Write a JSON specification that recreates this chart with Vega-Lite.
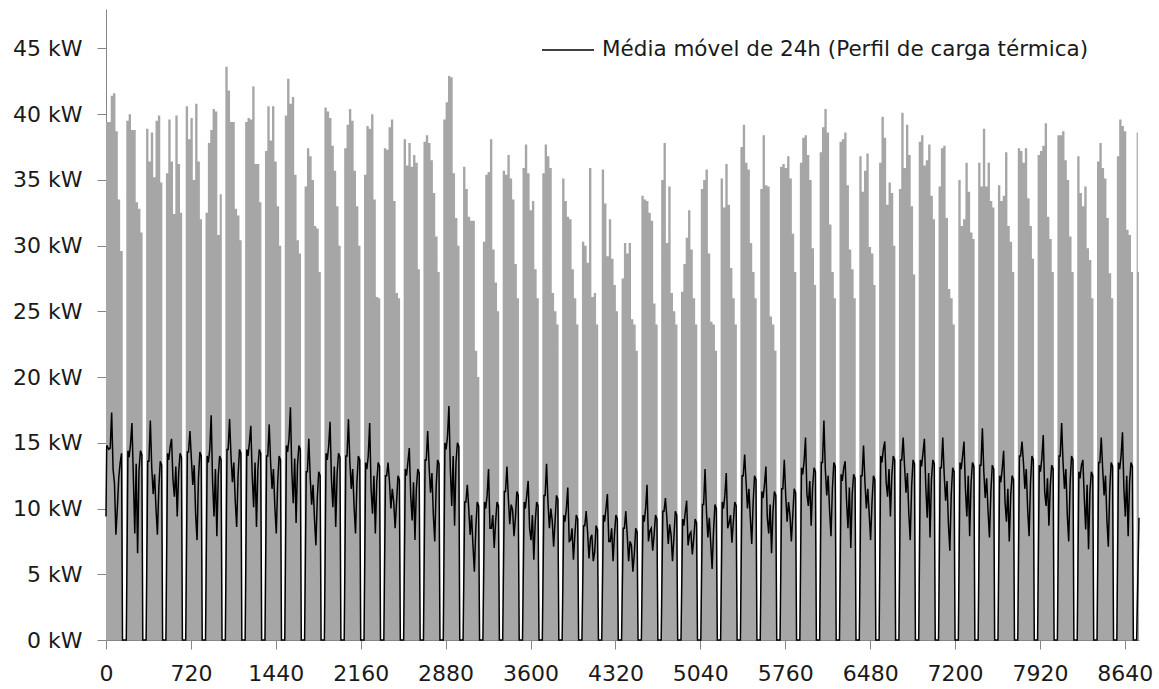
{
"$schema": "https://vega.github.io/schema/vega-lite/v6.json",
"width": 1033, "height": 631,
"autosize": {"type": "none"},
"padding": {"left": 106, "top": 9, "right": 20, "bottom": 49},
"background": "white",
"config": {
 "view": {"stroke": null},
 "font": "DejaVu Sans",
 "axis": {"grid": false, "domainColor": "#868686", "tickColor": "#868686", "labelColor": "#1a1a1a", "labelFont": "DejaVu Sans", "labelFontSize": 22, "title": null, "labelFlush": false, "labelOverlap": false, "tickSize": 9, "domainWidth": 1, "tickWidth": 1}
},
"datasets": {
"g": [
{"h":0,"v":39.4},{"h":20,"v":39.4},{"h":40,"v":41.4},{"h":60,"v":41.6},{"h":80,"v":38.7},{"h":100,"v":33.5},{"h":120,"v":29.6},{"h":142,"v":0},
{"h":172,"v":39.5},{"h":192,"v":40.0},{"h":212,"v":38.8},{"h":232,"v":38.8},{"h":252,"v":33.3},{"h":272,"v":32.8},{"h":292,"v":31.0},{"h":310,"v":0},
{"h":340,"v":38.9},{"h":360,"v":36.4},{"h":380,"v":38.6},{"h":400,"v":35.2},{"h":420,"v":39.5},{"h":440,"v":39.9},{"h":460,"v":34.8},{"h":478,"v":0},
{"h":508,"v":35.5},{"h":528,"v":39.6},{"h":548,"v":36.4},{"h":568,"v":32.4},{"h":588,"v":39.9},{"h":608,"v":36.2},{"h":628,"v":32.5},{"h":646,"v":0},
{"h":676,"v":40.6},{"h":696,"v":38.1},{"h":716,"v":39.7},{"h":736,"v":35.0},{"h":756,"v":40.8},{"h":776,"v":36.4},{"h":796,"v":32.0},{"h":814,"v":0},
{"h":844,"v":32.5},{"h":864,"v":37.8},{"h":884,"v":38.8},{"h":904,"v":40.4},{"h":924,"v":40.2},{"h":944,"v":30.8},{"h":964,"v":33.9},{"h":982,"v":0},
{"h":1012,"v":43.6},{"h":1032,"v":41.8},{"h":1052,"v":39.4},{"h":1072,"v":39.4},{"h":1092,"v":32.8},{"h":1112,"v":32.3},{"h":1132,"v":30.4},{"h":1150,"v":0},
{"h":1180,"v":39.4},{"h":1200,"v":39.7},{"h":1220,"v":39.6},{"h":1240,"v":42.1},{"h":1260,"v":36.2},{"h":1280,"v":36.2},{"h":1300,"v":33.3},{"h":1318,"v":0},
{"h":1348,"v":37.2},{"h":1368,"v":40.6},{"h":1388,"v":38.0},{"h":1408,"v":40.6},{"h":1428,"v":36.4},{"h":1448,"v":33.0},{"h":1468,"v":30.0},{"h":1486,"v":0},
{"h":1516,"v":39.9},{"h":1536,"v":42.7},{"h":1556,"v":40.8},{"h":1576,"v":41.3},{"h":1596,"v":35.4},{"h":1616,"v":30.4},{"h":1636,"v":29.4},{"h":1654,"v":0},
{"h":1684,"v":34.5},{"h":1704,"v":37.4},{"h":1724,"v":36.8},{"h":1744,"v":35.0},{"h":1764,"v":31.5},{"h":1784,"v":31.3},{"h":1804,"v":28.0},{"h":1822,"v":0},
{"h":1852,"v":40.5},{"h":1872,"v":40.2},{"h":1892,"v":39.7},{"h":1912,"v":37.6},{"h":1932,"v":35.7},{"h":1952,"v":33.0},{"h":1972,"v":30.0},{"h":1990,"v":0},
{"h":2020,"v":37.4},{"h":2040,"v":39.2},{"h":2060,"v":40.4},{"h":2080,"v":39.5},{"h":2100,"v":35.7},{"h":2120,"v":33.0},{"h":2140,"v":30.0},{"h":2158,"v":0},
{"h":2188,"v":35.4},{"h":2208,"v":39.1},{"h":2228,"v":38.9},{"h":2248,"v":40.0},{"h":2268,"v":33.5},{"h":2288,"v":26.1},{"h":2308,"v":26.0},{"h":2326,"v":0},
{"h":2356,"v":37.4},{"h":2376,"v":37.3},{"h":2396,"v":39.0},{"h":2416,"v":39.6},{"h":2436,"v":33.4},{"h":2456,"v":26.4},{"h":2476,"v":26.0},{"h":2494,"v":0},
{"h":2524,"v":38.1},{"h":2544,"v":36.1},{"h":2564,"v":37.8},{"h":2584,"v":36.0},{"h":2604,"v":36.9},{"h":2624,"v":36.3},{"h":2644,"v":28.2},{"h":2662,"v":0},
{"h":2692,"v":37.9},{"h":2712,"v":38.4},{"h":2732,"v":37.8},{"h":2752,"v":36.5},{"h":2772,"v":34.0},{"h":2792,"v":30.7},{"h":2812,"v":28.0},{"h":2830,"v":0},
{"h":2860,"v":39.6},{"h":2880,"v":40.9},{"h":2900,"v":42.9},{"h":2920,"v":42.8},{"h":2940,"v":35.5},{"h":2960,"v":32.1},{"h":2980,"v":30.0},{"h":2998,"v":0},
{"h":3028,"v":36.0},{"h":3048,"v":34.3},{"h":3068,"v":32.2},{"h":3088,"v":31.9},{"h":3108,"v":31.9},{"h":3128,"v":22.0},{"h":3148,"v":20.0},{"h":3166,"v":0},
{"h":3196,"v":30.3},{"h":3216,"v":35.4},{"h":3236,"v":35.6},{"h":3256,"v":38.1},{"h":3276,"v":29.7},{"h":3296,"v":27.2},{"h":3316,"v":25.0},{"h":3334,"v":0},
{"h":3364,"v":35.7},{"h":3384,"v":35.4},{"h":3404,"v":36.9},{"h":3424,"v":35.1},{"h":3444,"v":33.5},{"h":3464,"v":28.6},{"h":3484,"v":26.0},{"h":3502,"v":0},
{"h":3532,"v":35.9},{"h":3552,"v":37.7},{"h":3572,"v":35.5},{"h":3592,"v":32.7},{"h":3612,"v":33.4},{"h":3632,"v":28.2},{"h":3652,"v":26.0},{"h":3670,"v":0},
{"h":3700,"v":35.5},{"h":3720,"v":37.7},{"h":3740,"v":36.8},{"h":3760,"v":35.9},{"h":3780,"v":26.4},{"h":3800,"v":25.0},{"h":3820,"v":24.0},{"h":3838,"v":0},
{"h":3868,"v":35.1},{"h":3888,"v":33.4},{"h":3908,"v":32.2},{"h":3928,"v":32.0},{"h":3948,"v":28.2},{"h":3968,"v":26.0},{"h":3988,"v":24.0},{"h":4006,"v":0},
{"h":4036,"v":30.3},{"h":4056,"v":30.0},{"h":4076,"v":28.7},{"h":4096,"v":35.9},{"h":4116,"v":26.1},{"h":4136,"v":26.4},{"h":4156,"v":24.0},{"h":4174,"v":0},
{"h":4204,"v":35.8},{"h":4224,"v":33.2},{"h":4244,"v":29.2},{"h":4264,"v":32.0},{"h":4284,"v":29.0},{"h":4304,"v":27.0},{"h":4324,"v":25.0},{"h":4342,"v":0},
{"h":4372,"v":27.5},{"h":4392,"v":30.2},{"h":4412,"v":29.4},{"h":4432,"v":30.2},{"h":4452,"v":24.4},{"h":4472,"v":24.0},{"h":4492,"v":22.0},{"h":4510,"v":0},
{"h":4540,"v":33.8},{"h":4560,"v":33.5},{"h":4580,"v":33.4},{"h":4600,"v":32.5},{"h":4620,"v":31.9},{"h":4640,"v":25.6},{"h":4660,"v":24.0},{"h":4678,"v":0},
{"h":4708,"v":35.0},{"h":4728,"v":37.8},{"h":4748,"v":30.2},{"h":4768,"v":34.5},{"h":4788,"v":26.4},{"h":4808,"v":25.0},{"h":4828,"v":24.0},{"h":4846,"v":0},
{"h":4876,"v":26.5},{"h":4896,"v":28.6},{"h":4916,"v":30.6},{"h":4936,"v":32.7},{"h":4956,"v":29.7},{"h":4976,"v":26.0},{"h":4996,"v":24.0},{"h":5014,"v":0},
{"h":5044,"v":34.3},{"h":5064,"v":35.0},{"h":5084,"v":35.8},{"h":5104,"v":29.4},{"h":5124,"v":24.2},{"h":5144,"v":24.0},{"h":5164,"v":22.0},{"h":5182,"v":0},
{"h":5212,"v":35.1},{"h":5232,"v":32.9},{"h":5252,"v":36.2},{"h":5272,"v":33.1},{"h":5292,"v":28.3},{"h":5312,"v":26.0},{"h":5332,"v":24.0},{"h":5350,"v":0},
{"h":5380,"v":37.5},{"h":5400,"v":39.2},{"h":5420,"v":36.3},{"h":5440,"v":35.8},{"h":5460,"v":30.2},{"h":5480,"v":28.0},{"h":5500,"v":26.0},{"h":5518,"v":0},
{"h":5548,"v":34.3},{"h":5568,"v":38.4},{"h":5588,"v":34.6},{"h":5608,"v":34.5},{"h":5628,"v":24.6},{"h":5648,"v":24.0},{"h":5668,"v":22.0},{"h":5686,"v":0},
{"h":5716,"v":36.0},{"h":5736,"v":36.2},{"h":5756,"v":35.9},{"h":5776,"v":36.8},{"h":5796,"v":35.1},{"h":5816,"v":30.9},{"h":5836,"v":28.0},{"h":5854,"v":0},
{"h":5884,"v":36.3},{"h":5904,"v":38.2},{"h":5924,"v":38.4},{"h":5944,"v":36.9},{"h":5964,"v":35.0},{"h":5984,"v":29.8},{"h":6004,"v":27.0},{"h":6022,"v":0},
{"h":6052,"v":37.1},{"h":6072,"v":39.0},{"h":6092,"v":40.4},{"h":6112,"v":38.6},{"h":6132,"v":31.6},{"h":6152,"v":28.0},{"h":6172,"v":26.0},{"h":6190,"v":0},
{"h":6220,"v":37.9},{"h":6240,"v":38.1},{"h":6260,"v":38.6},{"h":6280,"v":34.6},{"h":6300,"v":29.7},{"h":6320,"v":28.2},{"h":6340,"v":26.0},{"h":6358,"v":0},
{"h":6388,"v":36.8},{"h":6408,"v":34.1},{"h":6428,"v":35.7},{"h":6448,"v":37.0},{"h":6468,"v":29.9},{"h":6488,"v":29.4},{"h":6508,"v":27.0},{"h":6526,"v":0},
{"h":6556,"v":36.3},{"h":6576,"v":39.8},{"h":6596,"v":38.2},{"h":6616,"v":33.1},{"h":6636,"v":34.8},{"h":6656,"v":34.0},{"h":6676,"v":30.0},{"h":6694,"v":0},
{"h":6724,"v":34.3},{"h":6744,"v":40.1},{"h":6764,"v":35.9},{"h":6784,"v":39.2},{"h":6804,"v":36.9},{"h":6824,"v":33.0},{"h":6844,"v":27.8},{"h":6862,"v":0},
{"h":6892,"v":37.9},{"h":6912,"v":38.4},{"h":6932,"v":36.1},{"h":6952,"v":36.5},{"h":6972,"v":37.7},{"h":6992,"v":33.8},{"h":7012,"v":32.0},{"h":7030,"v":0},
{"h":7060,"v":34.5},{"h":7080,"v":37.4},{"h":7100,"v":37.6},{"h":7120,"v":32.1},{"h":7140,"v":26.7},{"h":7160,"v":26.0},{"h":7180,"v":24.0},{"h":7198,"v":0},
{"h":7228,"v":35.0},{"h":7248,"v":31.5},{"h":7268,"v":32.0},{"h":7288,"v":36.3},{"h":7308,"v":34.1},{"h":7328,"v":31.0},{"h":7348,"v":30.5},{"h":7366,"v":0},
{"h":7396,"v":36.3},{"h":7416,"v":34.5},{"h":7436,"v":38.9},{"h":7456,"v":34.5},{"h":7476,"v":36.3},{"h":7496,"v":33.4},{"h":7516,"v":32.9},{"h":7534,"v":0},
{"h":7564,"v":34.6},{"h":7584,"v":33.4},{"h":7604,"v":33.8},{"h":7624,"v":37.1},{"h":7644,"v":31.5},{"h":7664,"v":30.3},{"h":7684,"v":28.0},{"h":7702,"v":0},
{"h":7732,"v":37.4},{"h":7752,"v":37.2},{"h":7772,"v":36.3},{"h":7792,"v":37.4},{"h":7812,"v":33.6},{"h":7832,"v":31.5},{"h":7852,"v":29.0},{"h":7870,"v":0},
{"h":7900,"v":36.9},{"h":7920,"v":37.2},{"h":7940,"v":37.6},{"h":7960,"v":39.3},{"h":7980,"v":32.2},{"h":8000,"v":30.5},{"h":8020,"v":28.0},{"h":8038,"v":0},
{"h":8068,"v":38.4},{"h":8088,"v":38.4},{"h":8108,"v":38.7},{"h":8128,"v":36.5},{"h":8148,"v":35.0},{"h":8168,"v":30.7},{"h":8188,"v":28.0},{"h":8206,"v":0},
{"h":8236,"v":36.8},{"h":8256,"v":34.0},{"h":8276,"v":33.0},{"h":8296,"v":34.5},{"h":8316,"v":29.8},{"h":8336,"v":28.9},{"h":8356,"v":26.0},{"h":8374,"v":0},
{"h":8404,"v":36.4},{"h":8424,"v":37.8},{"h":8444,"v":35.9},{"h":8464,"v":35.1},{"h":8484,"v":32.1},{"h":8504,"v":27.9},{"h":8524,"v":26.0},{"h":8542,"v":0},
{"h":8572,"v":36.8},{"h":8592,"v":39.6},{"h":8612,"v":39.1},{"h":8632,"v":38.7},{"h":8652,"v":31.2},{"h":8672,"v":30.8},{"h":8692,"v":28.0},{"h":8710,"v":0},
{"h":8740,"v":38.6},{"h":8750,"v":28.0},{"h":8760,"v":28.0}
],
"m": [
{"h":0,"v":9.4},{"h":6,"v":14.8},{"h":24,"v":14.5},{"h":36,"v":14.6},{"h":48,"v":17.3},{"h":60,"v":13.0},{"h":72,"v":11.9},{"h":84,"v":8.0},{"h":96,"v":10.0},{"h":108,"v":12.3},{"h":120,"v":13.5},{"h":132,"v":14.2},{"h":140,"v":0},
{"h":172,"v":0},{"h":186,"v":14.4},{"h":196,"v":13.9},{"h":208,"v":14.9},{"h":220,"v":16.5},{"h":232,"v":12.4},{"h":244,"v":8.1},{"h":256,"v":13.4},{"h":268,"v":6.6},{"h":280,"v":12.9},{"h":292,"v":14.4},{"h":304,"v":14.1},{"h":312,"v":0},
{"h":340,"v":0},{"h":354,"v":13.6},{"h":364,"v":13.6},{"h":376,"v":16.7},{"h":388,"v":13.1},{"h":400,"v":11.1},{"h":412,"v":12.6},{"h":424,"v":10.0},{"h":436,"v":8.0},{"h":448,"v":11.6},{"h":460,"v":13.6},{"h":472,"v":13.3},{"h":480,"v":0},
{"h":508,"v":0},{"h":522,"v":14.2},{"h":532,"v":13.7},{"h":544,"v":14.7},{"h":556,"v":15.3},{"h":568,"v":12.2},{"h":580,"v":10.9},{"h":592,"v":13.2},{"h":604,"v":9.4},{"h":616,"v":12.7},{"h":628,"v":14.2},{"h":640,"v":13.9},{"h":648,"v":0},
{"h":676,"v":0},{"h":690,"v":14.3},{"h":700,"v":14.3},{"h":712,"v":15.9},{"h":724,"v":13.8},{"h":736,"v":11.8},{"h":748,"v":13.3},{"h":760,"v":9.6},{"h":772,"v":7.6},{"h":784,"v":12.3},{"h":796,"v":14.3},{"h":808,"v":14.0},{"h":816,"v":0},
{"h":844,"v":0},{"h":858,"v":14.0},{"h":868,"v":13.5},{"h":880,"v":14.5},{"h":892,"v":17.1},{"h":904,"v":12.0},{"h":916,"v":9.4},{"h":928,"v":13.0},{"h":940,"v":7.9},{"h":952,"v":12.5},{"h":964,"v":14.0},{"h":976,"v":13.7},{"h":984,"v":0},
{"h":1012,"v":0},{"h":1026,"v":14.5},{"h":1036,"v":14.5},{"h":1048,"v":16.8},{"h":1060,"v":14.0},{"h":1072,"v":12.0},{"h":1084,"v":13.5},{"h":1096,"v":10.6},{"h":1108,"v":8.6},{"h":1120,"v":12.5},{"h":1132,"v":14.5},{"h":1144,"v":14.2},{"h":1152,"v":0},
{"h":1180,"v":0},{"h":1194,"v":14.5},{"h":1204,"v":14.0},{"h":1216,"v":15.0},{"h":1228,"v":16.3},{"h":1240,"v":12.5},{"h":1252,"v":10.1},{"h":1264,"v":13.5},{"h":1276,"v":8.6},{"h":1288,"v":13.0},{"h":1300,"v":14.5},{"h":1312,"v":14.2},{"h":1320,"v":0},
{"h":1348,"v":0},{"h":1362,"v":14.0},{"h":1372,"v":14.0},{"h":1384,"v":16.4},{"h":1396,"v":13.5},{"h":1408,"v":11.5},{"h":1420,"v":13.0},{"h":1432,"v":10.1},{"h":1444,"v":8.1},{"h":1456,"v":12.0},{"h":1468,"v":14.0},{"h":1480,"v":13.7},{"h":1488,"v":0},
{"h":1516,"v":0},{"h":1530,"v":14.8},{"h":1540,"v":14.3},{"h":1552,"v":15.3},{"h":1564,"v":17.7},{"h":1576,"v":12.8},{"h":1588,"v":10.4},{"h":1600,"v":13.8},{"h":1612,"v":8.9},{"h":1624,"v":13.3},{"h":1636,"v":14.8},{"h":1648,"v":14.5},{"h":1656,"v":0},
{"h":1684,"v":0},{"h":1698,"v":12.8},{"h":1708,"v":12.8},{"h":1720,"v":15.3},{"h":1732,"v":12.3},{"h":1744,"v":10.3},{"h":1756,"v":11.8},{"h":1768,"v":9.2},{"h":1780,"v":7.2},{"h":1792,"v":10.8},{"h":1804,"v":12.8},{"h":1816,"v":12.5},{"h":1824,"v":0},
{"h":1852,"v":0},{"h":1866,"v":14.2},{"h":1876,"v":13.7},{"h":1888,"v":14.7},{"h":1900,"v":16.6},{"h":1912,"v":12.2},{"h":1924,"v":10.1},{"h":1936,"v":13.2},{"h":1948,"v":8.6},{"h":1960,"v":12.7},{"h":1972,"v":14.2},{"h":1984,"v":13.9},{"h":1992,"v":0},
{"h":2020,"v":0},{"h":2034,"v":14.0},{"h":2044,"v":14.0},{"h":2056,"v":16.8},{"h":2068,"v":13.5},{"h":2080,"v":11.5},{"h":2092,"v":13.0},{"h":2104,"v":10.1},{"h":2116,"v":8.1},{"h":2128,"v":12.0},{"h":2140,"v":14.0},{"h":2152,"v":13.7},{"h":2160,"v":0},
{"h":2188,"v":0},{"h":2202,"v":13.5},{"h":2212,"v":13.0},{"h":2224,"v":14.0},{"h":2236,"v":16.5},{"h":2248,"v":11.5},{"h":2260,"v":9.6},{"h":2272,"v":12.5},{"h":2284,"v":8.1},{"h":2296,"v":12.0},{"h":2308,"v":13.5},{"h":2320,"v":13.2},{"h":2328,"v":0},
{"h":2356,"v":0},{"h":2370,"v":12.5},{"h":2380,"v":12.5},{"h":2392,"v":13.5},{"h":2404,"v":12.0},{"h":2416,"v":10.0},{"h":2428,"v":11.5},{"h":2440,"v":10.5},{"h":2452,"v":8.5},{"h":2464,"v":10.5},{"h":2476,"v":12.5},{"h":2488,"v":12.2},{"h":2496,"v":0},
{"h":2524,"v":0},{"h":2538,"v":13.0},{"h":2548,"v":12.5},{"h":2560,"v":13.5},{"h":2572,"v":14.6},{"h":2584,"v":11.0},{"h":2596,"v":9.1},{"h":2608,"v":12.0},{"h":2620,"v":7.6},{"h":2632,"v":11.5},{"h":2644,"v":13.0},{"h":2656,"v":12.7},{"h":2664,"v":0},
{"h":2692,"v":0},{"h":2706,"v":13.7},{"h":2716,"v":13.7},{"h":2728,"v":15.9},{"h":2740,"v":13.2},{"h":2752,"v":11.2},{"h":2764,"v":12.7},{"h":2776,"v":9.5},{"h":2788,"v":7.5},{"h":2800,"v":11.7},{"h":2812,"v":13.7},{"h":2824,"v":13.4},{"h":2832,"v":0},
{"h":2860,"v":0},{"h":2874,"v":15.0},{"h":2884,"v":14.5},{"h":2896,"v":15.5},{"h":2908,"v":17.8},{"h":2920,"v":13.0},{"h":2932,"v":10.2},{"h":2944,"v":14.0},{"h":2956,"v":8.7},{"h":2968,"v":13.5},{"h":2980,"v":15.0},{"h":2992,"v":14.7},{"h":3000,"v":0},
{"h":3028,"v":0},{"h":3042,"v":10.5},{"h":3052,"v":10.5},{"h":3064,"v":11.8},{"h":3076,"v":10.0},{"h":3088,"v":8.0},{"h":3100,"v":9.5},{"h":3112,"v":7.2},{"h":3124,"v":5.2},{"h":3136,"v":8.5},{"h":3148,"v":10.5},{"h":3160,"v":10.2},{"h":3168,"v":0},
{"h":3196,"v":0},{"h":3210,"v":10.5},{"h":3220,"v":10.0},{"h":3232,"v":11.0},{"h":3244,"v":13.0},{"h":3256,"v":8.5},{"h":3268,"v":8.5},{"h":3280,"v":9.5},{"h":3292,"v":7.0},{"h":3304,"v":9.0},{"h":3316,"v":10.5},{"h":3328,"v":10.2},{"h":3336,"v":0},
{"h":3364,"v":0},{"h":3378,"v":11.3},{"h":3388,"v":11.3},{"h":3400,"v":13.2},{"h":3412,"v":10.8},{"h":3424,"v":8.8},{"h":3436,"v":10.3},{"h":3448,"v":9.9},{"h":3460,"v":7.9},{"h":3472,"v":9.3},{"h":3484,"v":11.3},{"h":3496,"v":11.0},{"h":3504,"v":0},
{"h":3532,"v":0},{"h":3546,"v":10.5},{"h":3556,"v":10.0},{"h":3568,"v":11.0},{"h":3580,"v":12.1},{"h":3592,"v":8.5},{"h":3604,"v":7.6},{"h":3616,"v":9.5},{"h":3628,"v":6.1},{"h":3640,"v":9.0},{"h":3652,"v":10.5},{"h":3664,"v":10.2},{"h":3672,"v":0},
{"h":3700,"v":0},{"h":3714,"v":11.0},{"h":3724,"v":11.0},{"h":3736,"v":13.4},{"h":3748,"v":10.5},{"h":3760,"v":8.5},{"h":3772,"v":10.0},{"h":3784,"v":9.1},{"h":3796,"v":7.1},{"h":3808,"v":9.0},{"h":3820,"v":11.0},{"h":3832,"v":10.7},{"h":3840,"v":0},
{"h":3868,"v":0},{"h":3882,"v":9.5},{"h":3892,"v":9.0},{"h":3904,"v":10.0},{"h":3916,"v":11.6},{"h":3928,"v":7.5},{"h":3940,"v":7.6},{"h":3952,"v":8.5},{"h":3964,"v":6.1},{"h":3976,"v":8.0},{"h":3988,"v":9.5},{"h":4000,"v":9.2},{"h":4008,"v":0},
{"h":4036,"v":0},{"h":4050,"v":8.7},{"h":4060,"v":8.7},{"h":4072,"v":9.8},{"h":4084,"v":8.2},{"h":4096,"v":6.2},{"h":4108,"v":7.7},{"h":4120,"v":8.0},{"h":4132,"v":6.0},{"h":4144,"v":6.7},{"h":4156,"v":8.7},{"h":4168,"v":8.4},{"h":4176,"v":0},
{"h":4204,"v":0},{"h":4218,"v":9.5},{"h":4228,"v":9.0},{"h":4240,"v":10.0},{"h":4252,"v":11.1},{"h":4264,"v":7.5},{"h":4276,"v":7.5},{"h":4288,"v":8.5},{"h":4300,"v":6.0},{"h":4312,"v":8.0},{"h":4324,"v":9.5},{"h":4336,"v":9.2},{"h":4344,"v":0},
{"h":4372,"v":0},{"h":4386,"v":8.5},{"h":4396,"v":8.5},{"h":4408,"v":9.8},{"h":4420,"v":8.0},{"h":4432,"v":6.0},{"h":4444,"v":7.5},{"h":4456,"v":7.2},{"h":4468,"v":5.2},{"h":4480,"v":6.5},{"h":4492,"v":8.5},{"h":4504,"v":8.2},{"h":4512,"v":0},
{"h":4540,"v":0},{"h":4554,"v":9.5},{"h":4564,"v":9.0},{"h":4576,"v":10.0},{"h":4588,"v":11.8},{"h":4600,"v":7.5},{"h":4612,"v":8.3},{"h":4624,"v":8.5},{"h":4636,"v":6.8},{"h":4648,"v":8.0},{"h":4660,"v":9.5},{"h":4672,"v":9.2},{"h":4680,"v":0},
{"h":4708,"v":0},{"h":4722,"v":9.8},{"h":4732,"v":9.8},{"h":4744,"v":10.8},{"h":4756,"v":9.3},{"h":4768,"v":7.3},{"h":4780,"v":8.8},{"h":4792,"v":8.0},{"h":4804,"v":6.0},{"h":4816,"v":7.8},{"h":4828,"v":9.8},{"h":4840,"v":9.5},{"h":4848,"v":0},
{"h":4876,"v":0},{"h":4890,"v":9.2},{"h":4900,"v":8.7},{"h":4912,"v":9.7},{"h":4924,"v":10.6},{"h":4936,"v":7.2},{"h":4948,"v":8.0},{"h":4960,"v":8.2},{"h":4972,"v":6.5},{"h":4984,"v":7.7},{"h":4996,"v":9.2},{"h":5008,"v":8.9},{"h":5016,"v":0},
{"h":5044,"v":0},{"h":5058,"v":10.3},{"h":5068,"v":10.3},{"h":5080,"v":13.0},{"h":5092,"v":9.8},{"h":5104,"v":7.8},{"h":5116,"v":9.3},{"h":5128,"v":7.4},{"h":5140,"v":5.4},{"h":5152,"v":8.3},{"h":5164,"v":10.3},{"h":5176,"v":10.0},{"h":5184,"v":0},
{"h":5212,"v":0},{"h":5226,"v":10.5},{"h":5236,"v":10.0},{"h":5248,"v":11.0},{"h":5260,"v":12.7},{"h":5272,"v":8.5},{"h":5284,"v":8.9},{"h":5296,"v":9.5},{"h":5308,"v":7.4},{"h":5320,"v":9.0},{"h":5332,"v":10.5},{"h":5344,"v":10.2},{"h":5352,"v":0},
{"h":5380,"v":0},{"h":5394,"v":12.5},{"h":5404,"v":12.5},{"h":5416,"v":14.1},{"h":5428,"v":12.0},{"h":5440,"v":10.0},{"h":5452,"v":11.5},{"h":5464,"v":9.3},{"h":5476,"v":7.3},{"h":5488,"v":10.5},{"h":5500,"v":12.5},{"h":5512,"v":12.2},{"h":5520,"v":0},
{"h":5548,"v":0},{"h":5562,"v":11.3},{"h":5572,"v":10.8},{"h":5584,"v":11.8},{"h":5596,"v":13.2},{"h":5608,"v":9.3},{"h":5620,"v":8.1},{"h":5632,"v":10.3},{"h":5644,"v":6.6},{"h":5656,"v":9.8},{"h":5668,"v":11.3},{"h":5680,"v":11.0},{"h":5688,"v":0},
{"h":5716,"v":0},{"h":5730,"v":11.5},{"h":5740,"v":11.5},{"h":5752,"v":13.7},{"h":5764,"v":11.0},{"h":5776,"v":9.0},{"h":5788,"v":10.5},{"h":5800,"v":9.5},{"h":5812,"v":7.5},{"h":5824,"v":9.5},{"h":5836,"v":11.5},{"h":5848,"v":11.2},{"h":5856,"v":0},
{"h":5884,"v":0},{"h":5898,"v":13.1},{"h":5908,"v":12.6},{"h":5920,"v":13.6},{"h":5932,"v":15.4},{"h":5944,"v":11.1},{"h":5956,"v":10.2},{"h":5968,"v":12.1},{"h":5980,"v":8.7},{"h":5992,"v":11.6},{"h":6004,"v":13.1},{"h":6016,"v":12.8},{"h":6024,"v":0},
{"h":6052,"v":0},{"h":6066,"v":13.5},{"h":6076,"v":13.5},{"h":6088,"v":16.7},{"h":6100,"v":13.0},{"h":6112,"v":11.0},{"h":6124,"v":12.5},{"h":6136,"v":9.9},{"h":6148,"v":7.9},{"h":6160,"v":11.5},{"h":6172,"v":13.5},{"h":6184,"v":13.2},{"h":6192,"v":0},
{"h":6220,"v":0},{"h":6234,"v":12.6},{"h":6244,"v":12.1},{"h":6256,"v":13.1},{"h":6268,"v":13.6},{"h":6280,"v":10.6},{"h":6292,"v":8.5},{"h":6304,"v":11.6},{"h":6316,"v":7.0},{"h":6328,"v":11.1},{"h":6340,"v":12.6},{"h":6352,"v":12.3},{"h":6360,"v":0},
{"h":6388,"v":0},{"h":6402,"v":12.5},{"h":6412,"v":12.5},{"h":6424,"v":14.8},{"h":6436,"v":12.0},{"h":6448,"v":10.0},{"h":6460,"v":11.5},{"h":6472,"v":9.6},{"h":6484,"v":7.6},{"h":6496,"v":10.5},{"h":6508,"v":12.5},{"h":6520,"v":12.2},{"h":6528,"v":0},
{"h":6556,"v":0},{"h":6570,"v":14.0},{"h":6580,"v":13.5},{"h":6592,"v":14.5},{"h":6604,"v":15.1},{"h":6616,"v":12.0},{"h":6628,"v":10.9},{"h":6640,"v":13.0},{"h":6652,"v":9.4},{"h":6664,"v":12.5},{"h":6676,"v":14.0},{"h":6688,"v":13.7},{"h":6696,"v":0},
{"h":6724,"v":0},{"h":6738,"v":13.7},{"h":6748,"v":13.7},{"h":6760,"v":15.4},{"h":6772,"v":13.2},{"h":6784,"v":11.2},{"h":6796,"v":12.7},{"h":6808,"v":9.6},{"h":6820,"v":7.6},{"h":6832,"v":11.7},{"h":6844,"v":13.7},{"h":6856,"v":13.4},{"h":6864,"v":0},
{"h":6892,"v":0},{"h":6906,"v":13.7},{"h":6916,"v":13.2},{"h":6928,"v":14.2},{"h":6940,"v":15.3},{"h":6952,"v":11.7},{"h":6964,"v":9.3},{"h":6976,"v":12.7},{"h":6988,"v":7.8},{"h":7000,"v":12.2},{"h":7012,"v":13.7},{"h":7024,"v":13.4},{"h":7032,"v":0},
{"h":7060,"v":0},{"h":7074,"v":13.1},{"h":7084,"v":13.1},{"h":7096,"v":15.4},{"h":7108,"v":12.6},{"h":7120,"v":10.6},{"h":7132,"v":12.1},{"h":7144,"v":8.8},{"h":7156,"v":6.8},{"h":7168,"v":11.1},{"h":7180,"v":13.1},{"h":7192,"v":12.8},{"h":7200,"v":0},
{"h":7228,"v":0},{"h":7242,"v":13.5},{"h":7252,"v":13.0},{"h":7264,"v":14.0},{"h":7276,"v":15.1},{"h":7288,"v":11.5},{"h":7300,"v":9.4},{"h":7312,"v":12.5},{"h":7324,"v":7.9},{"h":7336,"v":12.0},{"h":7348,"v":13.5},{"h":7360,"v":13.2},{"h":7368,"v":0},
{"h":7396,"v":0},{"h":7410,"v":13.3},{"h":7420,"v":13.3},{"h":7432,"v":16.1},{"h":7444,"v":12.8},{"h":7456,"v":10.8},{"h":7468,"v":12.3},{"h":7480,"v":9.8},{"h":7492,"v":7.8},{"h":7504,"v":11.3},{"h":7516,"v":13.3},{"h":7528,"v":13.0},{"h":7536,"v":0},
{"h":7564,"v":0},{"h":7578,"v":12.5},{"h":7588,"v":12.0},{"h":7600,"v":13.0},{"h":7612,"v":14.4},{"h":7624,"v":10.5},{"h":7636,"v":9.0},{"h":7648,"v":11.5},{"h":7660,"v":7.5},{"h":7672,"v":11.0},{"h":7684,"v":12.5},{"h":7696,"v":12.2},{"h":7704,"v":0},
{"h":7732,"v":0},{"h":7746,"v":14.0},{"h":7756,"v":14.0},{"h":7768,"v":15.1},{"h":7780,"v":13.5},{"h":7792,"v":11.5},{"h":7804,"v":13.0},{"h":7816,"v":9.9},{"h":7828,"v":7.9},{"h":7840,"v":12.0},{"h":7852,"v":14.0},{"h":7864,"v":13.7},{"h":7872,"v":0},
{"h":7900,"v":0},{"h":7914,"v":13.3},{"h":7924,"v":12.8},{"h":7936,"v":13.8},{"h":7948,"v":15.6},{"h":7960,"v":11.3},{"h":7972,"v":10.2},{"h":7984,"v":12.3},{"h":7996,"v":8.7},{"h":8008,"v":11.8},{"h":8020,"v":13.3},{"h":8032,"v":13.0},{"h":8040,"v":0},
{"h":8068,"v":0},{"h":8082,"v":14.0},{"h":8092,"v":14.0},{"h":8104,"v":16.5},{"h":8116,"v":13.5},{"h":8128,"v":11.5},{"h":8140,"v":13.0},{"h":8152,"v":9.5},{"h":8164,"v":7.5},{"h":8176,"v":12.0},{"h":8188,"v":14.0},{"h":8200,"v":13.7},{"h":8208,"v":0},
{"h":8236,"v":0},{"h":8250,"v":12.8},{"h":8260,"v":12.3},{"h":8272,"v":13.3},{"h":8284,"v":13.7},{"h":8296,"v":10.8},{"h":8308,"v":8.4},{"h":8320,"v":11.8},{"h":8332,"v":6.9},{"h":8344,"v":11.3},{"h":8356,"v":12.8},{"h":8368,"v":12.5},{"h":8376,"v":0},
{"h":8404,"v":0},{"h":8418,"v":13.5},{"h":8428,"v":13.5},{"h":8440,"v":15.4},{"h":8452,"v":13.0},{"h":8464,"v":11.0},{"h":8476,"v":12.5},{"h":8488,"v":9.1},{"h":8500,"v":7.1},{"h":8512,"v":11.5},{"h":8524,"v":13.5},{"h":8536,"v":13.2},{"h":8544,"v":0},
{"h":8572,"v":0},{"h":8586,"v":13.5},{"h":8596,"v":13.0},{"h":8608,"v":14.0},{"h":8620,"v":15.8},{"h":8632,"v":11.5},{"h":8644,"v":9.4},{"h":8656,"v":12.5},{"h":8668,"v":7.9},{"h":8680,"v":12.0},{"h":8692,"v":13.5},{"h":8704,"v":13.2},{"h":8712,"v":0},
{"h":8740,"v":0},{"h":8760,"v":9.3}
]
},
"encoding": {
 "x": {"field": "h", "type": "quantitative", "scale": {"domain": [0, 8760], "nice": false, "zero": false}, "axis": {"values": [0,720,1440,2160,2880,3600,4320,5040,5760,6480,7200,7920,8640], "format": "d", "labelPadding": 14}},
 "y": {"field": "v", "type": "quantitative", "scale": {"domain": [0, 48], "nice": false}, "axis": {"values": [0,5,10,15,20,25,30,35,40,45], "labelExpr": "datum.value + ' kW'", "labelPadding": 15}}
},
"layer": [
 {"data": {"name": "g"}, "mark": {"type": "area", "interpolate": "step-after", "color": "#A6A6A6", "opacity": 1}},
 {"data": {"name": "m"}, "mark": {"type": "line", "strokeWidth": 1.5},
  "encoding": {"color": {"datum": "Média móvel de 24h (Perfil de carga térmica)", "type": "nominal", "scale": {"range": ["#000000"]},
   "legend": {"title": null, "orient": "none", "legendX": 435, "legendY": 14, "symbolType": "stroke", "symbolSize": 2704, "symbolStrokeWidth": 1.5, "labelFontSize": 21.5, "labelFont": "DejaVu Sans", "labelColor": "#1a1a1a", "labelOffset": 7, "labelLimit": 0, "padding": 0}}}}
]
}
